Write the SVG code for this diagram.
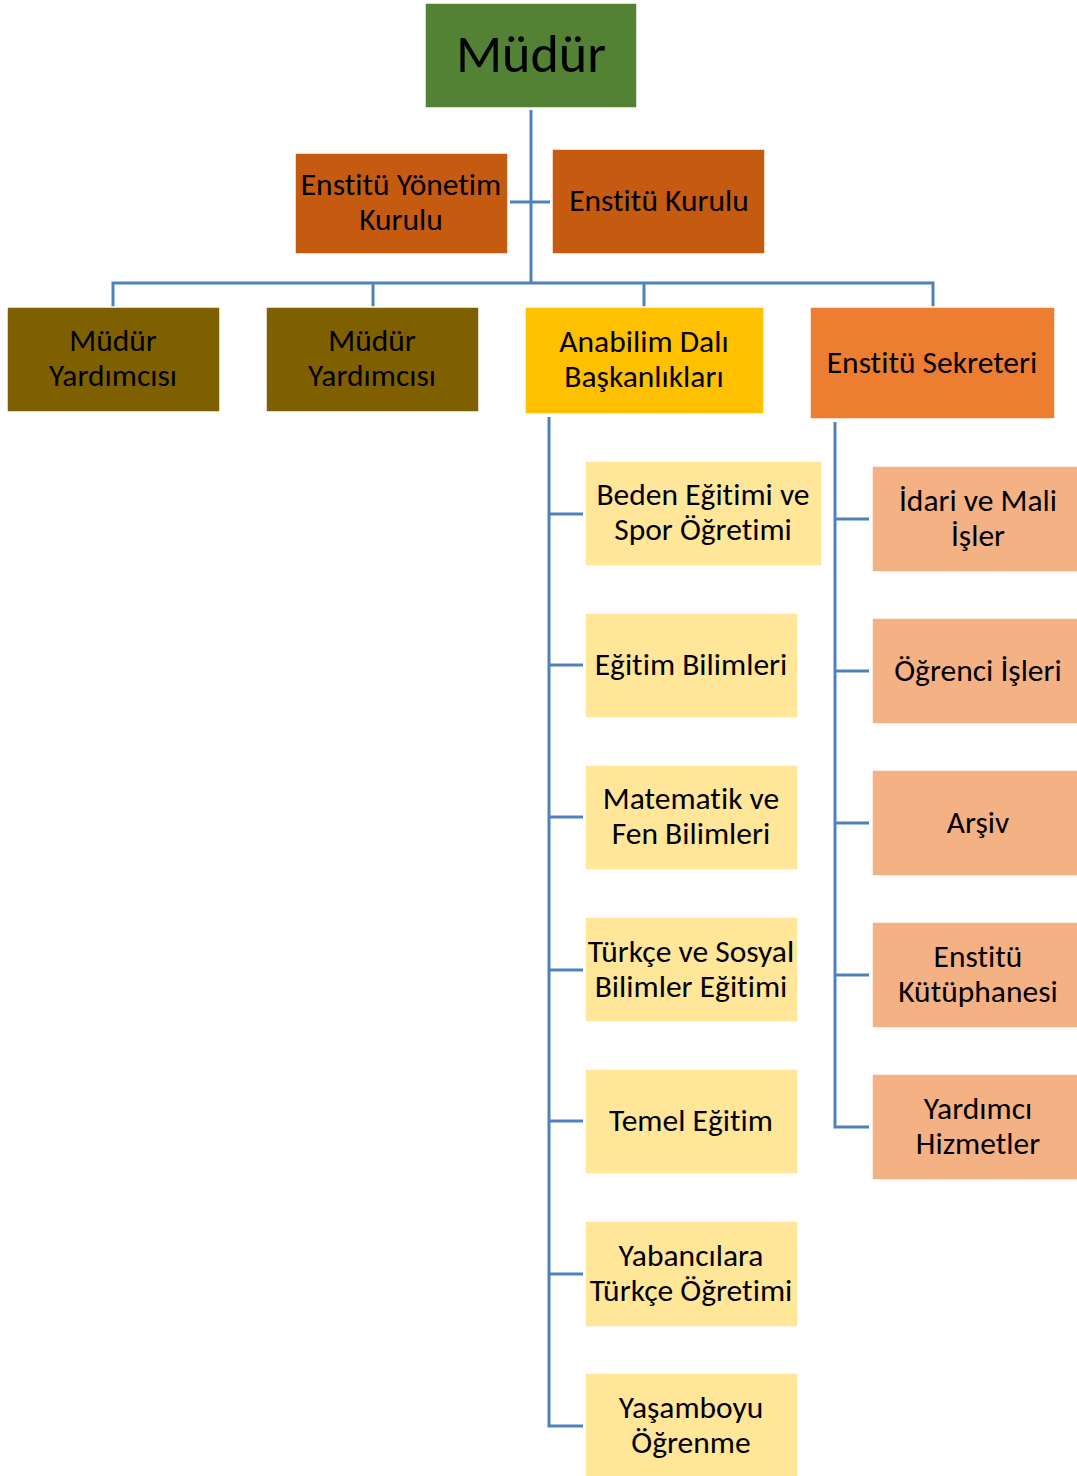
<svg xmlns="http://www.w3.org/2000/svg" width="1077" height="1476" viewBox="0 0 1077 1476">
<style>
text{font-family:Carlito,"Open Sans","Liberation Sans",sans-serif;font-size:31.5px;fill:#000;text-anchor:middle;font-variant-ligatures:none}
.big{font-size:54px}
.c{fill:none;stroke:#4F81BD;stroke-width:3}
.ws{stroke:#fff;stroke-width:1.5}
</style>
<rect width="1077" height="1476" fill="#fff"/>
<g id="connectors" class="c">
<path d="M531 110V283"/>
<path d="M510 202H550"/>
<path d="M113 307V283H933V307M373 283V307M644 283V307"/>
<path d="M549 417V1426H583M549 514H583M549 665H583M549 817H583M549 970H583M549 1121H583M549 1274H583"/>
<path d="M835 422V1127H869M835 519H869M835 671H869M835 823H869M835 975H869"/>
</g>
<g id="mudur"><rect class="ws" x="425" y="3" width="212" height="105" fill="#548235"/><text class="big" x="531" y="72">Müdür</text></g>
<g id="yonetim-kurulu"><rect class="ws" x="295" y="153" width="213" height="101" fill="#C55A11"/><text x="401" y="195">Enstitü Yönetim</text><text x="401" y="230">Kurulu</text></g>
<g id="enstitu-kurulu"><rect class="ws" x="552" y="149" width="213" height="105" fill="#C55A11"/><text x="659" y="211">Enstitü Kurulu</text></g>
<g id="yardimci1"><rect class="ws" x="7" y="307" width="213" height="105" fill="#7F6000"/><text x="113" y="351">Müdür</text><text x="113" y="386">Yardımcısı</text></g>
<g id="yardimci2"><rect class="ws" x="266" y="307" width="213" height="105" fill="#7F6000"/><text x="372" y="351">Müdür</text><text x="372" y="386">Yardımcısı</text></g>
<g id="anabilim"><rect class="ws" x="525" y="307" width="239" height="107" fill="#FFC000"/><text x="644" y="352">Anabilim Dalı</text><text x="644" y="387">Başkanlıkları</text></g>
<g id="sekreter"><rect class="ws" x="810" y="307" width="245" height="112" fill="#ED7D31"/><text x="932" y="373">Enstitü Sekreteri</text></g>
<g id="beden"><rect class="ws" x="585" y="461" width="237" height="105" fill="#FFE699"/><text x="703" y="505">Beden Eğitimi ve</text><text x="703" y="540">Spor Öğretimi</text></g>
<g id="egitim-bilimleri"><rect class="ws" x="585" y="613" width="213" height="105" fill="#FFE699"/><text x="691" y="675">Eğitim Bilimleri</text></g>
<g id="matematik"><rect class="ws" x="585" y="765" width="213" height="105" fill="#FFE699"/><text x="691" y="809">Matematik ve</text><text x="691" y="844">Fen Bilimleri</text></g>
<g id="turkce"><rect class="ws" x="585" y="917" width="213" height="105" fill="#FFE699"/><text x="691" y="962">Türkçe ve Sosyal</text><text x="691" y="997">Bilimler Eğitimi</text></g>
<g id="temel"><rect class="ws" x="585" y="1069" width="213" height="105" fill="#FFE699"/><text x="691" y="1131">Temel Eğitim</text></g>
<g id="yabancilara"><rect class="ws" x="585" y="1221" width="213" height="106" fill="#FFE699"/><text x="691" y="1266">Yabancılara</text><text x="691" y="1301">Türkçe Öğretimi</text></g>
<g id="yasamboyu"><rect class="ws" x="585" y="1373" width="213" height="104" fill="#FFE699"/><text x="691" y="1418">Yaşamboyu</text><text x="691" y="1453">Öğrenme</text></g>
<g id="idari"><rect class="ws" x="872" y="466" width="206" height="106" fill="#F4B183"/><text x="978" y="511">İdari ve Mali</text><text x="978" y="546">İşler</text></g>
<g id="ogrenci"><rect class="ws" x="872" y="618" width="206" height="106" fill="#F4B183"/><text x="978" y="681">Öğrenci İşleri</text></g>
<g id="arsiv"><rect class="ws" x="872" y="770" width="206" height="106" fill="#F4B183"/><text x="978" y="833">Arşiv</text></g>
<g id="kutuphane"><rect class="ws" x="872" y="922" width="206" height="106" fill="#F4B183"/><text x="978" y="967">Enstitü</text><text x="978" y="1002">Kütüphanesi</text></g>
<g id="hizmetler"><rect class="ws" x="872" y="1074" width="206" height="106" fill="#F4B183"/><text x="978" y="1119">Yardımcı</text><text x="978" y="1154">Hizmetler</text></g>
</svg>
